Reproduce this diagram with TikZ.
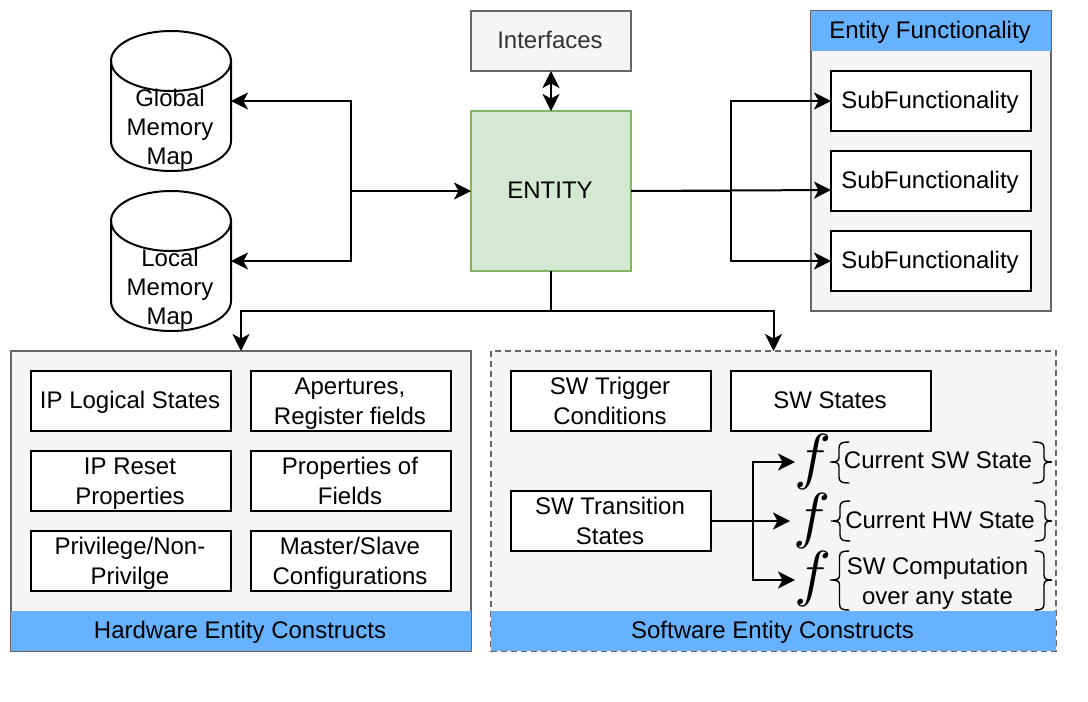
\documentclass[tikz,border=0pt]{standalone}
\usepackage{fontspec}
\setmainfont{Liberation Sans}
\usetikzlibrary{arrows.meta}
\definecolor{panelfill}{HTML}{F5F5F5}
\definecolor{panelline}{HTML}{666666}
\definecolor{headblue}{HTML}{66B2FF}
\definecolor{entfill}{HTML}{D5E8D4}
\definecolor{entline}{HTML}{82B366}
\definecolor{ifacetext}{HTML}{333333}
\newcommand{\dn}[1]{\smash{\raisebox{-11pt}{#1}}}
\tikzset{
  base/.style={inner sep=0pt,outer sep=0pt,align=center,font=\fontsize{24}{30}\selectfont,
    execute at begin node={\rule{0pt}{19pt}\kern-1pt},execute at end node={\kern1pt\rule[-5pt]{0pt}{5pt}}},
  whitebox/.style={base,draw=black,fill=white,line width=2pt,minimum width=200pt,minimum height=60pt},
  panel/.style={base,fill=panelfill},
  panelborder/.style={draw=panelline,line width=2pt},
  header/.style={base,fill=headblue,minimum height=40pt},
  plain/.style={base},
  drumtext/.style={base,font=\fontsize{24}{29}\selectfont},
  conn/.style={draw=black,line width=2pt,>={Stealth[length=17pt,width=17pt,inset=4.5pt]}},
  drumline/.style={draw=black,fill=white,line width=2pt},
  fsym/.style={inner sep=0pt,outer sep=0pt,scale=6.2},
  brace/.style={draw=black,line width=1.4pt,line cap=round},
}
% tip x, spine x, end x, top y, mid y, bottom y
\newcommand{\curlymark}[6]{%
  \pgfmathsetmacro{\qsg}{(#3)>(#2)?1:-1}%
  \draw[brace] (#3,#4) .. controls (#2+3*\qsg,#4) and (#2,#4+1) .. (#2,#4+6)
    -- (#2,#5-5) .. controls (#2,#5-1) and (#2-2*\qsg,#5) .. (#1,#5)
    .. controls (#2-2*\qsg,#5) and (#2,#5+1) .. (#2,#5+5)
    -- (#2,#6-6) .. controls (#2,#6-1) and (#2+3*\qsg,#6) .. (#3,#6);%
}
\newcommand{\drumshape}[1]{%
  \begin{scope}[shift={(0,#1)}]
    \path[drumline] (111,61) -- (111,141) .. controls (111,157.6) and (137.9,171) .. (171,171)
      .. controls (204.1,171) and (231,157.6) .. (231,141) -- (231,61)
      .. controls (231,44.4) and (204.1,31) .. (171,31)
      .. controls (137.9,31) and (111,44.4) .. (111,61) -- cycle;
    \draw[line width=2pt] (111,61) .. controls (111,77.6) and (137.9,91) .. (171,91)
      .. controls (204.1,91) and (231,77.6) .. (231,61);
  \end{scope}%
}
\begin{document}
\begin{tikzpicture}[x=1pt,y=-1pt]
\useasboundingbox (0,0) rectangle (1088,702);

% panels
\node[panel,minimum width=240pt,minimum height=300pt] (efpanel) at (931,161) {};
\node[panel,minimum width=460pt,minimum height=300pt] (hwpanel) at (241,501) {};
\node[panel,minimum width=565pt,minimum height=300pt] (swpanel) at (773.5,501) {};
\draw[panelborder] (811,11) rectangle (1051,311);
\draw[panelborder] (11,351) rectangle (471,651);
\draw[panelborder,dash pattern=on 6pt off 4pt] (491,351) rectangle (1056,651);

% headers
\node[header,minimum width=240pt] (efhead) at (931,31) {Entity Functionality};
\node[header,minimum width=460pt] (hwhead) at (241,631) {Hardware Entity Constructs};
\node[header,minimum width=565pt] (swhead) at (773.5,631) {Software Entity Constructs};

% memory maps
\drumshape{0}
\drumshape{160}
\node[inner sep=0pt,outer sep=0pt,minimum width=120pt,minimum height=140pt] (gm) at (171,101) {};
\node[inner sep=0pt,outer sep=0pt,minimum width=120pt,minimum height=140pt] (lm) at (171,261) {};
\node[drumtext] (gmtext) at (171,129) {Global\\Memory\\Map};
\node[drumtext] (lmtext) at (171,289) {Local\\Memory\\Map};

% centre
\node[base,draw=panelline,fill=panelfill,line width=2pt,text=ifacetext,minimum width=160pt,minimum height=60pt] (iface) at (551,41) {Interfaces};
\node[base,draw=entline,fill=entfill,line width=2pt,minimum width=160pt,minimum height=160pt] (entity) at (551,191) {ENTITY};

% subfunctionality
\node[whitebox] (sub1) at (931,101) {SubFunctionality};
\node[whitebox] (sub2) at (931,181) {SubFunctionality};
\node[whitebox] (sub3) at (931,261) {SubFunctionality};

% hardware
\node[whitebox] (h1) at (131,401) {IP Logical States};
\node[whitebox] (h2) at (351,401) {\dn{Apertures,}\\\dn{Register fields}};
\node[whitebox] (h3) at (131,481) {\dn{IP Reset}\\\dn{Properties}};
\node[whitebox] (h4) at (351,481) {\dn{Properties of}\\\dn{Fields}};
\node[whitebox] (h5) at (131,561) {\dn{Privilege/Non-}\\\dn{Privilge}};
\node[whitebox] (h6) at (351,561) {\dn{Master/Slave}\\\dn{Configurations}};

% software
\node[whitebox] (s1) at (611,401) {\dn{SW Trigger}\\\dn{Conditions}};
\node[whitebox] (s2) at (831,401) {SW States};
\node[whitebox] (s3) at (611,521) {\dn{SW Transition}\\\dn{States}};

% functions
\node[fsym] (f1) at (813,462) {$f$};
\node[fsym] (f2) at (812,521) {$f$};
\node[fsym] (f3) at (813,579) {$f$};
\coordinate (f1in) at (795,462);
\coordinate (f2in) at (790,521);
\coordinate (f3in) at (795,580);

\curlymark{830}{839}{849}{442}{462}{483}
\curlymark{1052}{1044}{1033}{442}{462}{483}
\node[plain] (c1) at (939,461) {Current SW State};
\curlymark{831}{840}{850}{501}{521}{541}
\curlymark{1052}{1045}{1035}{501}{521}{541}
\node[plain] (c2) at (941,521) {Current HW State};
\curlymark{830}{839.5}{849}{551}{580}{610}
\curlymark{1052}{1044}{1035}{551}{580}{610}
\node[plain] (c3) at (938.5,581) {\dn{SW Computation}\\\dn{over any state}};

% connectors
\draw[conn,<->] (gm.east) -- ++(120,0) |- (lm.east);
\coordinate (mjoin) at (351,191);
\draw[conn,->] (mjoin) -- (entity.west);
\draw[conn,<->] (iface.south) -- (entity.north);
\coordinate (rjoin) at (731,191);
\draw[conn] (entity.east) -- (rjoin);
\draw[conn,->] (rjoin) |- (sub1.west);
\draw[conn,->] (rjoin) |- (sub3.west);
\coordinate (sub2in) at (831,190);
\draw[conn,->] (entity.east) -- (sub2in);
\coordinate (bjoin) at (551,311);
\draw[conn] (entity.south) -- (bjoin);
\draw[conn,->] (bjoin) -| (hwpanel.north);
\draw[conn,->] (bjoin) -| (swpanel.north);
\coordinate (tjoin) at (753,521);
\draw[conn,->] (s3.east) -- (f2in);
\draw[conn,->] (tjoin) |- (f1in);
\draw[conn,->] (tjoin) |- (f3in);
\end{tikzpicture}
\end{document}
